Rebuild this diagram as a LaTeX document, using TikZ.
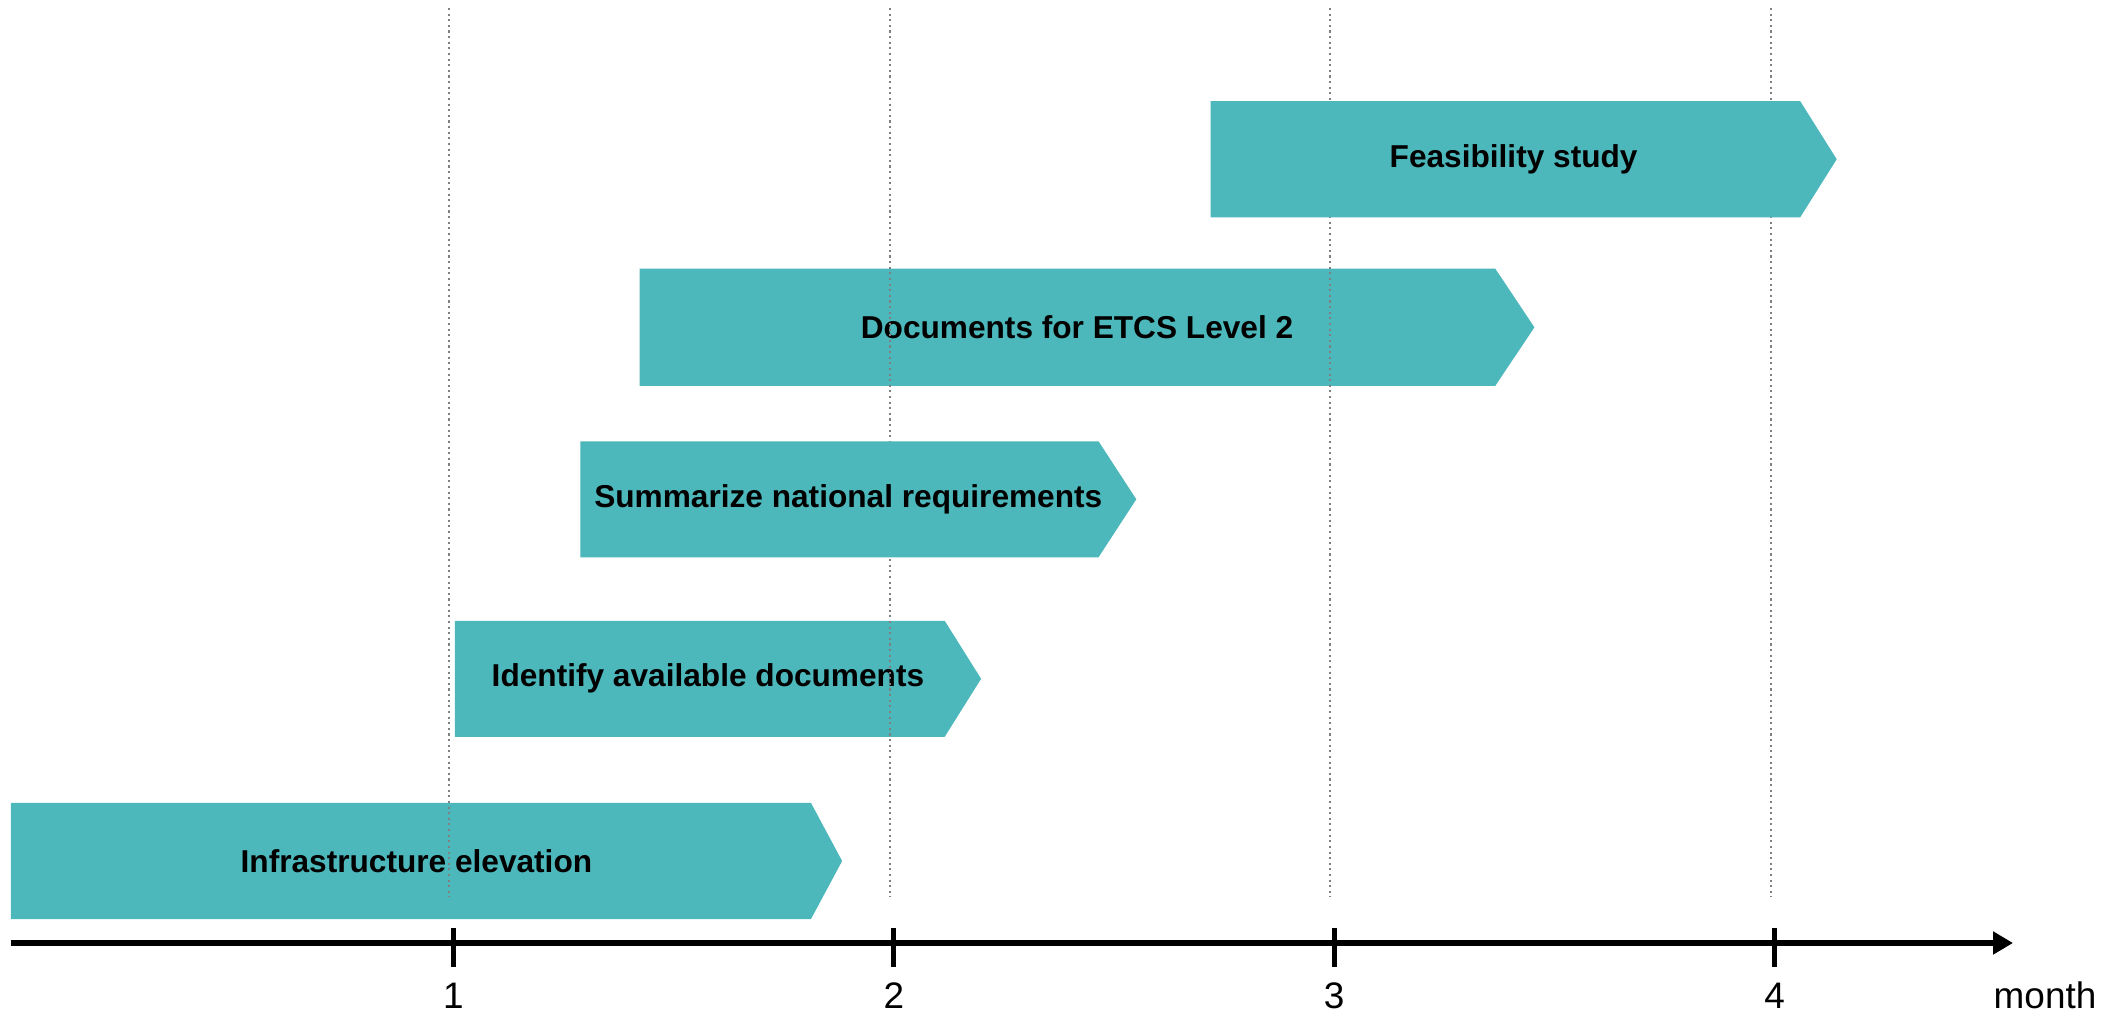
\documentclass[tikz,border=0pt]{standalone}
\usepackage{fontspec}
\setmainfont{Liberation Sans}
\usepackage{tikz}
\usetikzlibrary{arrows.meta}
\usetikzlibrary{positioning}
\usetikzlibrary{calc}
\definecolor{taskteal}{RGB}{76,184,187}
\tikzstyle{taskbar}=[fill=taskteal,draw=none]
\tikzstyle{tasktext}=[font=\bfseries\fontsize{9}{11}\selectfont,inner sep=0pt]
\tikzstyle{monthline}=[draw=gray,densely dotted,line width=0.6pt]
\tikzstyle{timeaxis}=[line width=1.8pt,-{Triangle[length=0.2cm,width=0.22cm]}]
\tikzstyle{tickmark}=[line width=1.4pt]
\tikzstyle{ticklabel}=[font=\fontsize{10.5}{12}\selectfont,anchor=base,inner sep=0pt]

\begin{document}
\begin{tikzpicture}

   \fill[white] (0,0) rectangle (21.16,10.13);
   \useasboundingbox (0,0) rectangle (21.16,10.13);

  \def\mw{4.404};
  \def\mz{0.13};

  % lower bars (grid lines run over them)
    \foreach \l/\r/\tip/\t/\b/\name/\txt in {0.108/8.110/8.421/2.100/0.940/infra/Infrastructure elevation, 4.548/9.447/9.811/3.922/2.762/identify/Identify available documents, 6.397/14.952/15.344/7.444/6.270/etcs/Documents for ETCS Level 2}
    {
        \draw[taskbar] (\l,\b) -- (\l,\t) -- (\r,\t) -- (\tip,{(\t+\b)/2}) -- (\r,\b) -- cycle;
        \node[tasktext] (\name) at ({(\l+\tip)/2-0.1},{(\t+\b)/2}) {\txt};
    }

    \foreach \m in {1,...,4}
        \draw[monthline] ({\mz+\mw*\m-0.04},10.05) -- ({\mz+\mw*\m-0.04},1.16);

  % upper bars
    \foreach \l/\r/\tip/\t/\b/\name/\txt in {5.803/10.985/11.363/5.717/4.557/summarize/Summarize national requirements, 12.105/18.002/18.367/9.118/7.957/feasibility/Feasibility study}
    {
        \draw[taskbar] (\l,\b) -- (\l,\t) -- (\r,\t) -- (\tip,{(\t+\b)/2}) -- (\r,\b) -- cycle;
        \node[tasktext] (\name) at ({(\l+\tip)/2-0.1},{(\t+\b)/2}) {\txt};
    }

  % time axis
  \coordinate (start) at (0.108,0.70);
  \coordinate (end) at (20.13,0.70);
  \draw[timeaxis] (start) -- (end);

    \foreach \m in {1,...,4}
    {
        \coordinate (tick\m) at ({\mz+\mw*\m},0.70);
        \draw[tickmark] ([yshift=0.15cm]tick\m) -- ([yshift=-0.24cm]tick\m);
        \node[ticklabel] (label\m) at ({\mz+\mw*\m},0.05) {\m};
    }

  \node[ticklabel] (month) at (20.45,0.05) {month};

\end{tikzpicture}
\end{document}
